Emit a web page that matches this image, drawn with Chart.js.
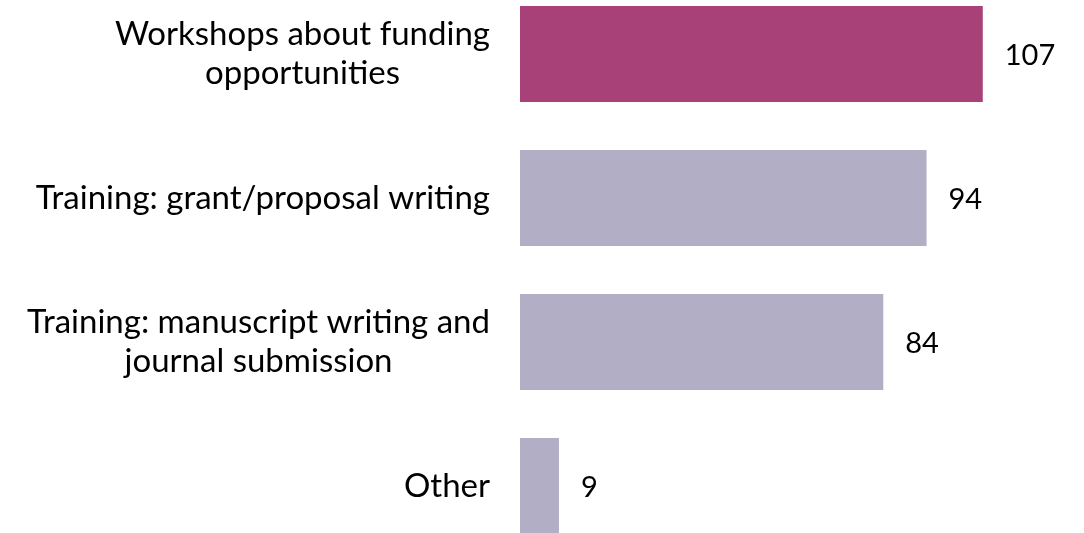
<!DOCTYPE html>
<html>
<head>
<meta charset="utf-8">
<script src="https://cdn.jsdelivr.net/npm/chart.js@4"></script>
<style>
    html, body { margin: 0; padding: 0; background: #fff; overflow: hidden; }
    #supportChart { position: absolute; left: 0; top: -18px; }
</style>
</head>
<body>
<canvas id="supportChart" width="1084" height="576"></canvas>
<script>
const categories = [
    ['Workshops about funding', 'opportunities'],
    'Training: grant/proposal writing',
    ['Training: manuscript writing and', 'journal submission'],
    'Other'
];
const counts = [107, 94, 84, 9];
const barColors = ['#A74177', '#B1AEC5', '#B1AEC5', '#B1AEC5'];

const FONT = "'Lato', 'Open Sans', sans-serif";
const LABEL_GAP = 30;
const LINE_HEIGHT = 39;

// category names: block right-aligned to the axis, lines centred within the block
const categoryLabels = {
    id: 'categoryLabels',
    afterDraw(chart) {
        const ctx = chart.ctx;
        const yScale = chart.scales.y;
        const right = yScale.right - LABEL_GAP;
        ctx.save();
        ctx.font = '33px ' + FONT;
        ctx.fillStyle = '#000';
        ctx.textAlign = 'center';
        ctx.textBaseline = 'middle';
        categories.forEach((label, i) => {
            const lines = Array.isArray(label) ? label : [label];
            const w = Math.max(...lines.map(l => ctx.measureText(l).width));
            const cx = right - w / 2;
            const cy = yScale.getPixelForTick(i);
            const y0 = cy - (lines.length - 1) * LINE_HEIGHT / 2;
            lines.forEach((l, k) => ctx.fillText(l, cx, y0 + k * LINE_HEIGHT));
        });
        ctx.restore();
    }
};

// value printed just past the end of each bar
const valueLabels = {
    id: 'valueLabels',
    afterDatasetsDraw(chart) {
        const ctx = chart.ctx;
        const meta = chart.getDatasetMeta(0);
        ctx.save();
        ctx.font = '29px ' + FONT;
        ctx.fillStyle = '#000';
        ctx.textAlign = 'left';
        ctx.textBaseline = 'middle';
        meta.data.forEach((bar, i) => {
            ctx.fillText(String(counts[i]), bar.x + 22, bar.y + 2);
        });
        ctx.restore();
    }
};

new Chart(document.getElementById('supportChart').getContext('2d'), {
    type: 'bar',
    data: {
        labels: categories,
        datasets: [{
            data: counts,
            backgroundColor: barColors,
            borderWidth: 0,
            categoryPercentage: 1,
            barPercentage: 0.667
        }]
    },
    options: {
        indexAxis: 'y',
        responsive: false,
        animation: false,
        layout: { padding: { left: 0, right: 45, top: 0, bottom: 0 } },
        plugins: { legend: { display: false }, tooltip: { enabled: false } },
        scales: {
            x: {
                min: 0,
                max: 120,
                display: false,
                grid: { display: false }
            },
            y: {
                grid: { display: false, drawTicks: false },
                border: { display: false },
                afterFit: (scale) => {
                    scale.width = 520;
                    scale.paddingTop = 0;
                    scale.paddingBottom = 0;
                },
                ticks: { display: false }
            }
        }
    },
    plugins: [valueLabels, categoryLabels]
});
</script>
</body>
</html>
